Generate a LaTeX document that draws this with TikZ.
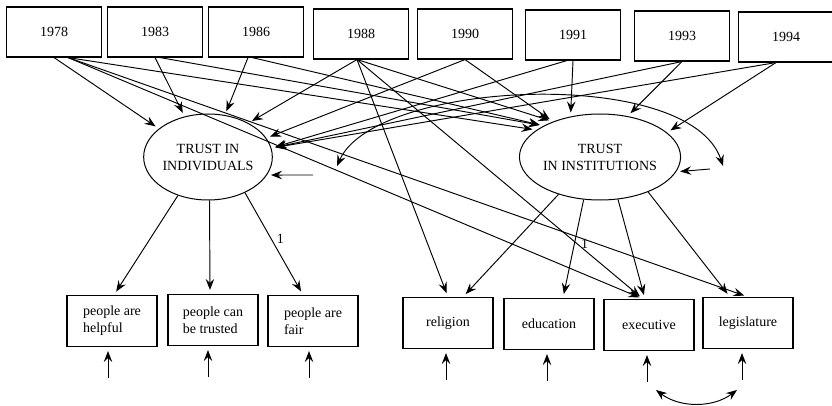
\documentclass[tikz,border=0pt]{standalone}
\usepackage{fontspec}
\setmainfont{Liberation Serif}
\usetikzlibrary{arrows.meta}
\usetikzlibrary{shapes.geometric}

\tikzset{
 yearbox/.style={draw, line width=1.1pt, minimum width=95pt, minimum height=50pt, inner sep=0pt},
 latent/.style={draw, ellipse, line width=1pt, minimum width=126pt, minimum height=86pt, inner sep=0pt, align=center},
 itembox/.style={draw, line width=1.1pt, minimum width=90pt, minimum height=51pt, inner sep=0pt, align=left},
 arr/.style={line width=0.95pt, -{Stealth[length=11pt,width=8.5pt,inset=4pt]}, shorten >=4pt},
 biarr/.style={line width=0.95pt, {Stealth[length=11pt,width=8.5pt,inset=4pt]}-{Stealth[length=11pt,width=8.5pt,inset=4pt]}},
}

\begin{document}
\begin{tikzpicture}[x=1pt, y=-1pt, font=\fontsize{14}{17}\selectfont]

\fill[white] (0,0) rectangle (832,406);
\useasboundingbox (0,0) rectangle (832,406);

\foreach \yr/\x/\y in {1978/54/32, 1983/155/32, 1986/256/32, 1988/361/34, 1990/465/34, 1991/573/35, 1993/682/36, 1994/786/37} {
 \node[yearbox] (y\yr) at (\x,\y) {\yr};
};

\node[latent] (ti) at (208,157) {TRUST IN\\INDIVIDUALS};
\node[latent] (tin) at (600,157) {TRUST\\IN INSTITUTIONS};

\foreach \nm/\x/\y/\txt in {helpful/112/321/{people are\\helpful}, trusted/213/320/{people can\\be trusted}, fair/313/321/{people are\\fair}, religion/448/323/{religion}, education/549/324/{education}, executive/649/325/{executive}, legislature/748/323/{legislature}} {
 \node[itembox] (\nm) at (\x,\y) {\txt};
};

% years on the two factors
\foreach \yr/\dx/\a in {1978/0/150, 1983/0/120, 1986/-8/68, 1988/-4/40, 1990/0/18, 1991/-6/8, 1993/0/8, 1994/-10/8} {
 \draw[arr] ([xshift=\dx]y\yr.south) -- (ti.\a);
};
\foreach \yr/\dx/\a in {1978/14/157, 1983/5/151, 1986/-4/151, 1988/-4/143, 1990/0/143, 1991/0/126, 1993/0/56, 1994/-10/20} {
 \draw[arr] ([xshift=\dx]y\yr.south) -- (tin.\a);
};

% direct paths
\draw[arr] ([xshift=-4]y1988.south) -- (religion.north);
\draw[arr] ([xshift=-4]y1988.south) -- ([xshift=-6]executive.north);
\draw[arr] ([xshift=14]y1978.south) -- ([xshift=-6]executive.north);
\draw[arr] ([xshift=14]y1978.south) -- (legislature.north);

% loadings
\draw[arr] (ti.232) -- ([xshift=2]helpful.north);
\draw[arr] (ti.272) -- ([xshift=-3]trusted.north);
\draw[arr] (ti.316) -- ([xshift=-10]fair.north) node[pos=.45, right=2pt] {1};
\draw[arr] (tin.222) -- ([xshift=15]religion.north);
\draw[arr] (tin.249) -- ([xshift=14]education.north) node[pos=.45, right=3pt] {1};
\draw[arr] (tin.293) -- ([xshift=-4]executive.north);
\draw[arr] (tin.324) -- ([xshift=-18]legislature.north);

% disturbances
\coordinate (dti) at (313,175);
\coordinate (dtin) at (710,169);
\draw[arr] (dti) -- (ti.-17);
\draw[arr] (dtin) -- (tin.-11);
\coordinate (cti) at (337,166);
\coordinate (ctin) at (723,166);
\draw[biarr] (cti) .. controls (375,80) and (690,65) .. (ctin);

% errors
\foreach \nm/\dx in {helpful/-4, trusted/-5, fair/-4, religion/-2, education/-2, executive/-2, legislature/-6} {
 \coordinate (e\nm) at ([xshift=\dx, yshift=-31]\nm.south);
 \draw[arr] (e\nm) -- ([xshift=\dx]\nm.south);
};
\coordinate (cex) at (656,390);
\coordinate (cle) at (737,390);
\draw[biarr] (cex) .. controls (680,408) and (713,408) .. (cle);

\end{tikzpicture}
\end{document}
